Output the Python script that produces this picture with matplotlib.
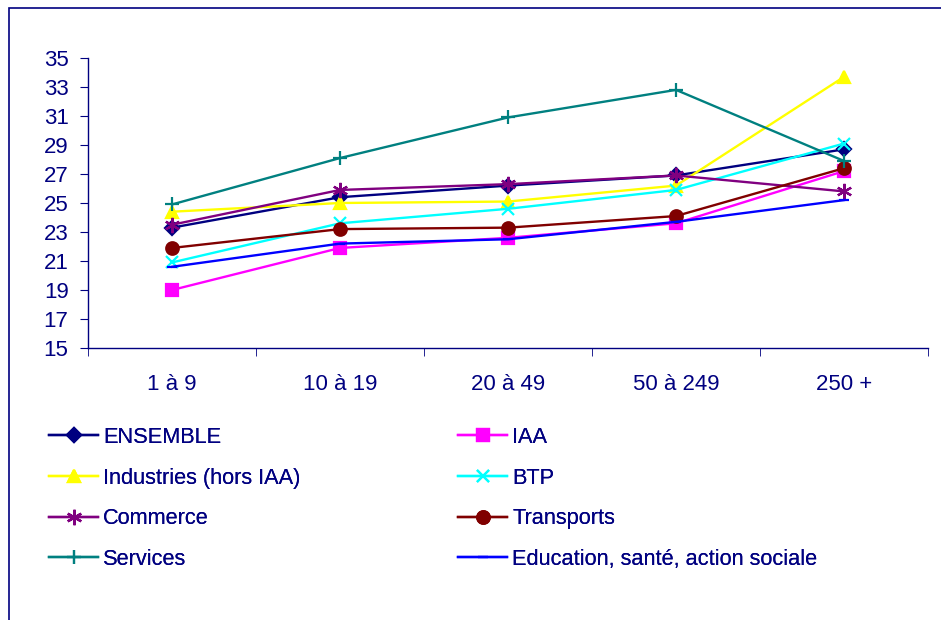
import matplotlib
matplotlib.use('Agg')
import matplotlib.pyplot as plt
from matplotlib.patches import Rectangle

# categories (taille d'entreprise)
categories = ['1 à 9', '10 à 19', '20 à 49', '50 à 249', '250 +']

ensemble = [23.3, 25.4, 26.2, 26.9, 28.7]
iaa = [19.0, 21.9, 22.6, 23.6, 27.2]
industries = [24.4, 25.0, 25.1, 26.2, 33.7]
btp = [20.9, 23.6, 24.6, 25.9, 29.1]
commerce = [23.5, 25.9, 26.3, 26.9, 25.8]
transports = [21.9, 23.2, 23.3, 24.1, 27.4]
services = [24.9, 28.1, 30.9, 32.8, 27.9]
education = [20.6, 22.2, 22.5, 23.7, 25.2]

navy = '#000080'
plt.rcParams['font.family'] = ['Liberation Sans', 'DejaVu Sans']

fig = plt.figure(figsize=(9.41, 6.2), dpi=100)
W, H = 941, 620
ax = fig.add_axes([88 / W, 1 - 348 / H, 840 / W, 290 / H])

x = list(range(len(categories)))
series = [
    ('ENSEMBLE', ensemble, navy, 'D', 7),
    ('IAA', iaa, '#FF00FF', 's', 8.5),
    ('Industries (hors IAA)', industries, '#FFFF00', '^', 9),
    ('BTP', btp, '#00FFFF', 'x', 9),
    ('Commerce', commerce, '#800080', (6, 2, 0), 11),
    ('Transports', transports, '#800000', 'o', 9),
    ('Services', services, '#008080', '+', 10),
    ('Education, santé, action sociale', education, '#0000FF', '_', 7),
]
handles = {}
for name, vals, col, mk, ms in series:
    h, = ax.plot(x, vals, color=col, marker=mk, markersize=ms, linewidth=1.7,
                 markeredgewidth=1.6, markerfacecolor=col, markeredgecolor=col,
                 label=name, clip_on=False)
    handles[name] = h

ax.set_xlim(-0.5, 4.5)
ax.set_ylim(15, 35)
ax.set_yticks(range(15, 36, 2))
ax.set_xticks(x)
ax.set_xticklabels(categories)
ax.set_xticks([i - 0.5 for i in range(6)], minor=True)
for s in ['top', 'right']:
    ax.spines[s].set_visible(False)
for s in ['left', 'bottom']:
    ax.spines[s].set_color(navy)
    ax.spines[s].set_linewidth(1)
ax.tick_params(axis='y', colors=navy, labelsize=16, length=6, pad=8)
ax.tick_params(axis='x', which='major', colors=navy, labelsize=16, length=0, pad=19)
ax.tick_params(axis='x', which='minor', colors=navy, length=6)

# legend in two columns, as in the original
col1 = ['ENSEMBLE', 'Industries (hors IAA)', 'Commerce', 'Services']
col2 = ['IAA', 'BTP', 'Transports', 'Education, santé, action sociale']
for names, xpos in [(col1, 49), (col2, 458)]:
    leg = fig.legend([handles[n] for n in names], names,
                     loc='upper left', bbox_to_anchor=(xpos / W, 1 - 427 / H),
                     frameon=False, fontsize=15.7, handlelength=2.25,
                     handletextpad=0.23, labelspacing=0.9, borderpad=0,
                     borderaxespad=0)
    for t in leg.get_texts():
        t.set_color(navy)
    fig.add_artist(leg)

fig.patches.append(Rectangle((9 / W, -0.1), 1.1, 1.1 - 7.5 / H,
                             transform=fig.transFigure, fill=False,
                             edgecolor=navy, linewidth=1.2))

fig.savefig('out.png', dpi=100)
